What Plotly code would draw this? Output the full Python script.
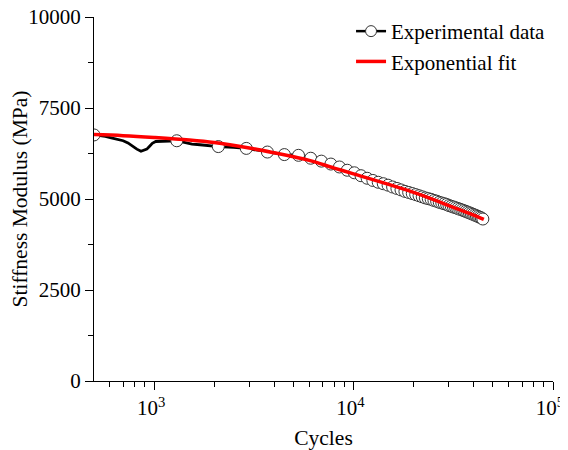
import plotly.graph_objects as go

# Experimental data (continuous trace)
line_cycles = [500, 530, 570, 610, 650, 700, 740, 780, 820, 860, 890, 920, 950, 980,
               1020, 1100, 1200, 1300, 1400, 1550, 1700, 1900, 2100, 2500,
               2900, 3300, 3700, 4100, 4500, 4900, 5300, 5700, 6100, 6500, 6900, 7300,
               7700, 8100, 8500, 9300, 10100, 10900, 11700, 12500, 13300, 14100, 14900,
               15700, 16500, 17300, 18100, 18900, 19700, 20500, 21300, 22100, 22900,
               23700, 24500, 25300, 26100, 26900, 27700, 28500, 29300, 30100, 30900,
               31700, 32500, 33300, 34100, 34900, 35700, 36500, 37300, 38100, 38900,
               39700, 40500, 41300, 42100, 42900, 43700, 44500]
line_modulus = [6760, 6745, 6720, 6680, 6650, 6600, 6540, 6450, 6370, 6310, 6330, 6370, 6450, 6530,
                6580, 6585, 6595, 6600, 6560, 6510, 6490, 6460, 6440, 6420,
                6390, 6340, 6290, 6250, 6220, 6210, 6200, 6160, 6120, 6080, 6040, 6000,
                5960, 5920, 5880, 5790, 5720, 5640, 5570, 5510, 5460, 5420, 5380,
                5330, 5290, 5250, 5210, 5180, 5150, 5120, 5090, 5060, 5030,
                5010, 4990, 4960, 4940, 4910, 4890, 4870, 4850, 4820, 4800,
                4780, 4760, 4740, 4720, 4700, 4680, 4660, 4640, 4620, 4600,
                4580, 4560, 4540, 4520, 4500, 4480, 4450]

# Experimental data points shown with circle markers
marker_cycles = [500, 1300, 2100, 2900, 3700, 4500, 5300, 6100, 6900, 7700, 8500, 9300,
                 10100, 10900, 11700, 12500, 13300, 14100, 14900, 15700, 16500, 17300,
                 18100, 18900, 19700, 20500, 21300, 22100, 22900, 23700, 24500, 25300,
                 26100, 26900, 27700, 28500, 29300, 30100, 30900, 31700, 32500, 33300,
                 34100, 34900, 35700, 36500, 37300, 38100, 38900, 39700, 40500, 41300,
                 42100, 42900, 43700, 44500]
marker_modulus = [6760, 6600, 6440, 6390, 6290, 6220, 6200, 6120, 6040, 5960, 5880, 5790,
                  5720, 5640, 5570, 5510, 5460, 5420, 5380, 5330, 5290, 5250,
                  5210, 5180, 5150, 5120, 5090, 5060, 5030, 5010, 4990, 4960,
                  4940, 4910, 4890, 4870, 4850, 4820, 4800, 4780, 4760, 4740,
                  4720, 4700, 4680, 4660, 4640, 4620, 4600, 4580, 4560, 4540,
                  4520, 4500, 4480, 4450]

# Exponential fit
fit_cycles = [500, 700, 1000, 1500, 2000, 3000, 4000, 5000, 6000, 8000, 10000,
              15000, 20000, 25000, 30000, 35000, 40000, 45000]
fit_modulus = [6770, 6740, 6690, 6620, 6550, 6400, 6270, 6160, 6060, 5850, 5690,
               5400, 5180, 4990, 4820, 4680, 4560, 4440]

x_tick_vals = [1000, 10000, 100000]
x_tick_text = ["10<sup>3</sup>", "10<sup>4</sup>", "10<sup>5</sup>"]
x_minor_vals = [600, 700, 800, 900, 2000, 3000, 4000, 5000, 6000, 7000, 8000, 9000,
                20000, 30000, 40000, 50000, 60000, 70000, 80000, 90000]
y_tick_vals = [0, 2500, 5000, 7500, 10000]
y_tick_text = ["0", "2500", "5000", "7500", "10000"]
y_minor_vals = [1250, 3750, 6250, 8750]

FONT = "Liberation Serif, Times New Roman, serif"

fig = go.Figure()
fig.add_trace(go.Scatter(x=line_cycles, y=line_modulus, mode="lines",
                         line=dict(color="black", width=2.8), showlegend=False,
                         hoverinfo="skip"))
fig.add_trace(go.Scatter(x=marker_cycles, y=marker_modulus, mode="markers",
                         marker=dict(symbol="circle", size=12, color="white",
                                     line=dict(color="#333333", width=1)),
                         showlegend=False))
fig.add_trace(go.Scatter(x=[None], y=[None], mode="lines+markers", name="Experimental data",
                         line=dict(color="black", width=2.5),
                         marker=dict(symbol="circle", size=11, color="white",
                                     line=dict(color="#333333", width=1))))
fig.add_trace(go.Scatter(x=fit_cycles, y=fit_modulus, mode="lines", name="Exponential fit",
                         line=dict(color="#ff0000", width=3.5, shape="spline")))

axis_common = dict(showline=True, linecolor="black", linewidth=1.3, ticks="outside",
                   ticklen=8, tickwidth=1.3, tickcolor="black", showgrid=False,
                   zeroline=False, mirror=False, automargin=False,
                   ticklabeloverflow="allow",
                   tickfont=dict(family=FONT, size=21, color="black"))

# The page body adds an 8px offset, so the figure is 560x442 inside the 568x450 window.
# Top margin is 0 and the y domain leaves 9px at the top so the legend can sit higher.
fig.update_layout(
    width=560, height=442,
    margin=dict(l=86, r=15, t=0, b=69),
    paper_bgcolor="white", plot_bgcolor="white",
    font=dict(family=FONT, color="black"),
    xaxis=dict(type="log", range=[2.69897, 5], tickvals=x_tick_vals, ticktext=x_tick_text,
               ticklabelshift=-3,
               minor=dict(tickvals=x_minor_vals, ticks="outside", ticklen=5, tickwidth=1.3,
                          tickcolor="black"),
               title=dict(text="Cycles", font=dict(family=FONT, size=21.5, color="black"),
                          standoff=10),
               **axis_common),
    yaxis=dict(range=[0, 10000], tickvals=y_tick_vals, ticktext=y_tick_text,
               domain=[0, 0.97587],
               minor=dict(tickvals=y_minor_vals, ticks="outside", ticklen=5, tickwidth=1.3,
                          tickcolor="black"),
               title=dict(text="Stiffness Modulus (MPa)",
                          font=dict(family=FONT, size=21.5, color="black"), standoff=10),
               **axis_common),
    legend=dict(x=0.56, y=0.992, xanchor="left", yanchor="top", bgcolor="rgba(0,0,0,0)",
                font=dict(family=FONT, size=21, color="black"), tracegroupgap=0),
    showlegend=True,
)

fig.write_html("out.html")
